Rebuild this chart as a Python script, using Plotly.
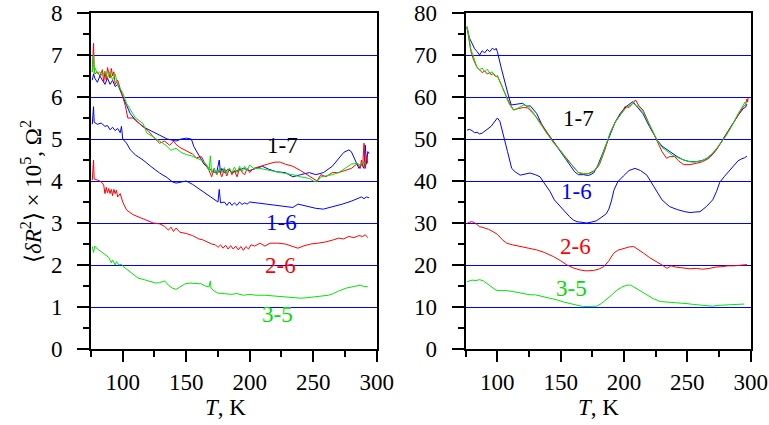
import plotly.graph_objects as go

# ---------------- data (T in K, value) ----------------
# Left panel  (x10^5 Ohm^2)
L17_blue = [(76,6.4),(77,6.55),(78,6.45),(80,6.35),(82,6.5),(84,6.4),(86,6.3),(88,6.45),(90,6.3),(92,6.4),(94,6.25),(96,6.3),(98,6.15),(100,6.0),(103,5.8),(106,5.6),(110,5.45),(116,5.29),(122,5.2),(129,5.1),(135,5.0),(142,4.95),(146,5.0),(150,5.02),(154,5.0),(156,4.82),(160,4.6),(164,4.4),(168,4.3),(171,4.22),(174,4.2),(176,4.5),(177,4.2),(178,4.3),(180,4.2),(183,4.28),(186,4.2),(190,4.25),(195,4.3),(200,4.25),(205,4.3),(210,4.35),(215,4.28),(221,4.22),(228,4.2),(234,4.1),(240,4.15),(247,4.2),(252,4.15),(258,4.2),(265,4.35),(270,4.53),(274,4.68),(278,4.74),(280,4.7),(283,4.5),(286,4.3),(288,4.4),(290,4.3),(291,4.85),(292,4.4),(293,4.7),(294,4.65)]
L17_red = [(76,6.6),(77,7.28),(77.5,6.7),(78,6.55),(80,6.6),(82,6.5),(84,6.65),(85,6.35),(86,6.6),(87,6.4),(88,6.7),(90,6.45),(91,6.68),(92,6.5),(93,6.6),(94,6.3),(96,6.4),(98,6.2),(100,6.0),(102,5.8),(104,5.5),(108,5.5),(112,5.4),(116,5.3),(120,5.2),(124,5.05),(129,4.9),(133,4.95),(137,4.85),(140,4.95),(142,4.87),(145,4.8),(148,4.75),(152,4.7),(155,4.64),(158,4.55),(162,4.58),(165,4.4),(168,4.25),(170,4.1),(172,4.3),(174,4.15),(176,4.25),(178,4.1),(180,4.28),(182,4.12),(184,4.3),(186,4.15),(188,4.25),(190,4.1),(192,4.3),(194,4.2),(196,4.15),(198,4.3),(200,4.2),(203,4.3),(208,4.35),(214,4.4),(220,4.45),(224,4.45),(228,4.4),(234,4.35),(240,4.25),(245,4.15),(250,4.05),(253,4.0),(256,4.15),(260,4.1),(265,4.2),(270,4.2),(275,4.25),(280,4.3),(285,4.42),(287,4.3),(288,4.5),(289,4.35),(290,4.9),(291,4.3),(292,4.6),(293,4.42)]
L17_green = [(76,6.6),(77,7.0),(77.5,6.55),(78,6.7),(80,6.55),(82,6.6),(84,6.5),(86,6.62),(88,6.45),(90,6.6),(92,6.4),(94,6.55),(96,6.3),(98,6.2),(100,6.1),(103,5.85),(106,5.7),(110,5.5),(116,5.37),(119,5.14),(124,5.05),(129,4.95),(134,4.85),(138,4.73),(142,4.78),(146,4.68),(150,4.63),(154,4.6),(158,4.55),(163,4.48),(166,4.4),(168,4.25),(169,4.6),(170,4.2),(172,4.3),(174,4.15),(176,4.3),(178,4.2),(180,4.32),(182,4.18),(184,4.3),(186,4.2),(188,4.33),(190,4.2),(192,4.35),(194,4.22),(196,4.35),(198,4.25),(200,4.38),(203,4.3),(208,4.3),(215,4.25),(221,4.22),(228,4.18),(234,4.15),(240,4.1),(247,4.06),(250,4.0),(253,3.98),(256,4.1),(260,4.12),(265,4.15),(270,4.2),(275,4.3),(280,4.4),(284,4.42),(287,4.38),(290,4.45),(292,4.4)]
L16_blue = [(76,5.35),(77,5.77),(77.5,5.4),(80,5.35),(83,5.38),(86,5.3),(88,5.32),(90,5.22),(92,5.28),(94,5.2),(96,5.25),(98,5.15),(99,5.3),(100,5.0),(103,4.9),(106,4.74),(110,4.62),(116,4.5),(122,4.35),(129,4.19),(135,4.08),(139,3.98),(142,3.95),(146,3.98),(150,4.0),(155,3.92),(160,3.82),(165,3.72),(170,3.6),(173,3.55),(175,3.5),(176,3.8),(177,3.48),(180,3.5),(182,3.42),(184,3.5),(186,3.42),(188,3.48),(190,3.42),(192,3.5),(194,3.44),(196,3.48),(198,3.45),(200,3.5),(205,3.48),(210,3.45),(220,3.42),(230,3.38),(234,3.37),(238,3.45),(245,3.4),(252,3.35),(258,3.33),(265,3.38),(273,3.45),(280,3.52),(285,3.58),(288,3.62),(290,3.58),(292,3.62),(294,3.6)]
L26_red = [(76,4.02),(77,4.5),(77.5,4.05),(80,4.02),(82,4.0),(84,3.95),(85,3.9),(86,3.7),(87,3.85),(88,3.72),(89,3.82),(90,3.7),(91,3.8),(92,3.65),(93,3.8),(94,3.7),(95,3.78),(96,3.62),(98,3.7),(100,3.5),(103,3.31),(108,3.2),(114,3.12),(119,3.05),(124,3.0),(129,2.98),(133,2.92),(136,2.83),(138,2.9),(140,2.8),(142,2.88),(145,2.78),(150,2.75),(155,2.7),(160,2.62),(163,2.6),(166,2.55),(170,2.5),(173,2.48),(175,2.42),(177,2.48),(179,2.4),(181,2.47),(183,2.38),(185,2.46),(187,2.38),(189,2.45),(191,2.36),(193,2.44),(195,2.35),(197,2.44),(199,2.38),(201,2.48),(204,2.45),(208,2.52),(212,2.45),(216,2.52),(222,2.52),(228,2.5),(234,2.45),(238,2.4),(242,2.45),(248,2.5),(254,2.52),(260,2.55),(266,2.6),(270,2.64),(274,2.62),(278,2.68),(282,2.65),(286,2.7),(289,2.68),(291,2.72),(293,2.65)]
L35_green = [(76,2.44),(77,2.3),(78,2.45),(80,2.38),(83,2.32),(86,2.25),(89,2.18),(91,2.05),(92,2.12),(94,2.0),(95,2.08),(97,2.0),(99,2.02),(101,1.95),(104,1.88),(108,1.78),(112,1.69),(117,1.65),(122,1.6),(126,1.57),(129,1.58),(133,1.62),(136,1.52),(139,1.45),(142,1.42),(145,1.48),(149,1.55),(153,1.57),(158,1.55),(162,1.55),(165,1.5),(168,1.48),(169,1.62),(169.5,1.45),(172,1.38),(175,1.33),(180,1.32),(185,1.3),(190,1.32),(195,1.28),(200,1.3),(205,1.28),(212,1.28),(220,1.26),(230,1.25),(235,1.22),(240,1.21),(245,1.22),(250,1.24),(256,1.25),(262,1.28),(266,1.32),(270,1.38),(276,1.45),(280,1.48),(284,1.5),(287,1.52),(290,1.49),(293,1.48)]

# Right panel
R17_blue = [(76,76.5),(77,75.5),(78,74),(80,72.8),(82,71.5),(84,70.8),(86,70),(88,71),(90,70.5),(92,71.3),(94,70.8),(96,71.6),(98,71.2),(99,71.6),(100,70.8),(103,67),(106,63.3),(109,60),(111,58.1),(115,58.2),(120,58.5),(123,57.8),(126,57.9),(131,56.1),(135,53.5),(139,51.4),(143,50),(147,48.2),(151,46.5),(155,45),(158,43.5),(161,42.2),(164,41.5),(168,41.5),(172,41.3),(176,41.9),(179,43.5),(181,45),(185,48),(189,51.4),(193,54),(197,56.1),(202,57.8),(207,58.9),(211,57.5),(215,56),(220,53),(226,49.8),(230,48.3),(234,47.4),(238,46.5),(242,45.8),(247,45),(252,44.6),(257,44.6),(262,44.9),(266,45.5),(270,46.6),(274,48),(278,49.8),(282,51.7),(286,53.7),(290,55.6),(294,57.2),(296,57.6),(297,58.3)]
R17_red = [(76,76.7),(77,75),(79,71),(81,69),(82.3,68),(84,67),(86.3,66.4),(88,65.8),(90,66.2),(92,65.5),(94,65.8),(95,65.3),(97,65.6),(99,64.8),(100,65.1),(102.6,63.3),(105,61.5),(108,59.5),(111,57.8),(113,56.9),(116,57.2),(120.5,57.5),(124,57.4),(126,56.8),(130,55.5),(135,53.5),(139,51.7),(144,49.5),(149.6,47.3),(155,45.2),(160,43.4),(164,42),(168,41.6),(172,41.8),(176,42.4),(179,43.2),(181,44.2),(185,47.5),(189,51.4),(193,54),(197,55.7),(201,57.8),(204,57.5),(207,58.5),(209,59.3),(212,57.8),(215,56.9),(220,53.5),(226,49.8),(230,47),(233.6,45.4),(236,45.8),(240,45.8),(243,44.8),(247,43.9),(252,43.9),(257,44.2),(262,44.6),(267,45.4),(272,47),(278,49.8),(282,51.7),(286,53.7),(290,55.8),(294,57.6),(296,58.2),(297,59.5),(297.5,58.8),(298,59.8)]
R17_green = [(76,76.9),(77,75.5),(79,71.5),(81,69.5),(82.3,68.5),(84,67),(86,66.5),(88,66.9),(90,66),(92,66.6),(94,65.7),(96,66),(98,65),(100,64.9),(103,63),(106,60.5),(109,58.5),(112.6,56.9),(116,57.3),(120.5,58.1),(123,58),(125.8,57.3),(129,56),(133,54),(139,51.5),(144,49.2),(149.6,47.3),(155,45),(160,43.4),(164,42),(168,41.8),(172,41.7),(176,42.2),(179,43.5),(181,44.5),(185,48),(189,51.4),(193,54),(197,55.7),(202,57.5),(207,58.5),(211,57.8),(215,56.5),(220,53.5),(226,49.8),(230,48),(234,47),(238,46.2),(242,45.6),(246,45.2),(250,44.7),(255,44.5),(260,44.7),(265,45.3),(270,46.6),(275,48.5),(280,50.5),(285,53),(290,56),(294,58),(295.5,58.8),(296,58)]
R16_blue = [(76,52.1),(78,52.3),(80,52),(82,51.5),(84,51.6),(86,51.2),(88,51.4),(90,51.8),(92,52.2),(95,53),(97,53.8),(99,54.6),(100,55),(102,54.2),(104,52),(106,49.8),(108,47),(111.3,43),(114,42.2),(118,41.4),(122,41.6),(125.8,41.9),(130,41.5),(133.7,41),(137,39.5),(141.6,37.5),(145,35.5),(149.5,33.9),(153,32.8),(157,31.5),(160,30.7),(163,30.3),(166,30.2),(170.5,30),(174,30.2),(178,30.5),(181,31.1),(184,31.8),(186,32.2),(188,33.3),(190,35.2),(192,37.8),(195,39.8),(199.5,41.2),(204,42.5),(208.7,43),(213,42.5),(218,41.4),(222,39.5),(225.8,37.5),(230,35.5),(236,33.9),(242,33.2),(248,32.7),(252,32.5),(256,32.6),(260,32.7),(265,33.9),(270,35.5),(273,37.5),(275.6,39.7),(279,41),(282,42),(286,43.5),(290,44.8),(293,45.3),(295,45.5),(297,45.9)]
R26_red = [(76,29.9),(78,30.2),(80,30.3),(82,30.1),(84,29.6),(86,29.1),(88,29),(90,28.8),(93,28.5),(96.8,27.9),(100,27.3),(104,26),(107.3,25.2),(112,24.8),(118,24.4),(124,24.1),(131,23.6),(137,23),(144.3,22),(150,21),(155,20),(160,19.3),(165.5,18.8),(170,18.6),(176,18.7),(180,19),(184,19.6),(188,21),(191.8,22.8),(195,23.5),(199.7,24),(204,24.3),(207.6,24.4),(211,23.8),(215.5,22.8),(220,21.8),(226,20.8),(230,20),(234,19.2),(237,19.8),(241,19.5),(247,19.2),(252,19.1),(257,19.2),(262,19),(267.7,19.2),(272,19.5),(277,19.6),(282,19.8),(287,19.8),(292,19.9),(297,20.1)]
R35_green = [(76,16),(78,16.2),(80,16.4),(83,16.3),(86,16.5),(89,16.2),(92,15.5),(95,14.8),(99,14),(103,13.9),(107.3,13.9),(112,13.7),(118,13.3),(122,13.1),(125.8,12.9),(130,12.9),(136,12.5),(142,12.1),(147,11.7),(152,11.2),(157.5,10.9),(162,10.5),(168,10.1),(173,10.1),(178.5,10.2),(182,10.8),(186,11.7),(190,12.8),(194.4,14),(198,14.7),(202.3,15.2),(205,15.2),(207.6,14.8),(212,14),(218,12.9),(223,12),(228.6,11.3),(234,11.2),(239,11.1),(244,10.9),(249.7,10.8),(255,10.6),(260,10.5),(265,10.4),(270,10.2),(275,10.4),(280,10.5),(285,10.6),(290,10.6),(295,10.7)]

# curve labels: (text, T, value, colour key)
left_labels = [("1-7", 226, 4.85, "black"), ("1-6", 225, 3.02, "blue"),
               ("2-6", 224, 1.99, "red"), ("3-5", 221.5, 0.81, "green")]
right_labels = [("1-7", 164, 54.8, "black"), ("1-6", 162.6, 37.4, "blue"),
                ("2-6", 161.3, 24.3, "red"), ("3-5", 158.7, 14.3, "green")]

x_major = [100, 150, 200, 250, 300]
x_minor = [75, 125, 175, 225, 275]

# ---------------- styling ----------------
COL = {"blue": "#0000ff", "red": "#ff0000", "green": "#00e600", "black": "#000000"}
TXT = {"blue": "#0000ff", "red": "#ff0000", "green": "#00dd00", "black": "#000000"}
FONT = "Liberation Serif, Times New Roman, serif"
FS = 23
W, H = 769, 425

fig = go.Figure()

def add(series, color, xa, ya):
    xs = [p[0] for p in series]
    ys = [p[1] for p in series]
    fig.add_trace(go.Scatter(x=xs, y=ys, mode="lines", xaxis=xa, yaxis=ya,
                             line=dict(color=COL[color], width=1), showlegend=False,
                             hoverinfo="skip"))

for s, c in [(L17_blue, "blue"), (L17_red, "red"), (L17_green, "green"),
             (L16_blue, "blue"), (L26_red, "red"), (L35_green, "green")]:
    add(s, c, "x", "y")
for s, c in [(R17_blue, "blue"), (R17_red, "red"), (R17_green, "green"),
             (R16_blue, "blue"), (R26_red, "red"), (R35_green, "green")]:
    add(s, c, "x2", "y2")

def xaxis(domain, anchor):
    return dict(domain=domain, anchor=anchor, range=[75, 300], tickmode="array",
                tickvals=x_major, ticks="outside", ticklen=11, tickwidth=2,
                tickcolor="black", automargin=False,
                minor=dict(tickvals=x_minor, ticks="outside", ticklen=6,
                           tickwidth=2, tickcolor="black", showgrid=False),
                showline=True, mirror=True, linecolor="black", linewidth=2,
                showgrid=False, zeroline=False,
                tickfont=dict(family=FONT, size=FS, color="black"))

def yaxis(domain, anchor, top, dt):
    return dict(domain=domain, anchor=anchor, range=[0, top], dtick=dt, tick0=0,
                ticks="outside", ticklen=12, tickwidth=2, tickcolor="black",
                automargin=False,
                minor=dict(dtick=dt / 2, tick0=0, ticks="outside", ticklen=6,
                           tickwidth=2, tickcolor="black", showgrid=False),
                showline=True, mirror=True, linecolor="black", linewidth=2,
                showgrid=True, gridcolor="#0000ff", gridwidth=1, zeroline=False,
                ticklabelstandoff=10,
                tickfont=dict(family=FONT, size=FS, color="black"))

ydom = [1 - 349 / H, 1 - 13 / H]
fig.update_layout(
    width=W, height=H, paper_bgcolor="white", plot_bgcolor="white",
    margin=dict(l=0, r=0, t=0, b=0, autoexpand=False), showlegend=False,
    hovermode=False,
    font=dict(family=FONT, size=FS, color="black"),
    xaxis=xaxis([91 / W, 376.7 / W], "y"),
    yaxis=yaxis(ydom, "x", 8, 1),
    xaxis2=xaxis([465.7 / W, 750.7 / W], "y2"),
    yaxis2=yaxis(ydom, "x2", 80, 10),
)

ann = []
for t, x, y, c in left_labels:
    ann.append(dict(text=t, x=x, y=y, xref="x", yref="y", showarrow=False,
                    font=dict(family=FONT, size=FS, color=TXT[c])))
for t, x, y, c in right_labels:
    ann.append(dict(text=t, x=x, y=y, xref="x2", yref="y2", showarrow=False,
                    font=dict(family=FONT, size=FS, color=TXT[c])))
for xc in (225, 598):
    ann.append(dict(text="<i>T</i>, K", x=xc / W, y=1 - 407 / H, xref="paper",
                    yref="paper", showarrow=False, xanchor="center", yanchor="middle",
                    font=dict(family=FONT, size=FS, color="black")))
ann.append(dict(text="⟨<i>δR</i><sup>2</sup>⟩ × 10<sup>5</sup>, Ω<sup>2</sup>",
                x=31 / W, y=1 - 192 / H, xref="paper", yref="paper", showarrow=False,
                textangle=-90, xanchor="center", yanchor="middle",
                font=dict(family=FONT, size=FS, color="black")))
fig.update_layout(annotations=ann)

fig.write_html("out.html", config={"displayModeBar": False, "staticPlot": True},
               post_script="document.body.style.margin='0px';"
                           "document.body.style.padding='0px';"
                           "document.body.style.overflow='hidden';")
